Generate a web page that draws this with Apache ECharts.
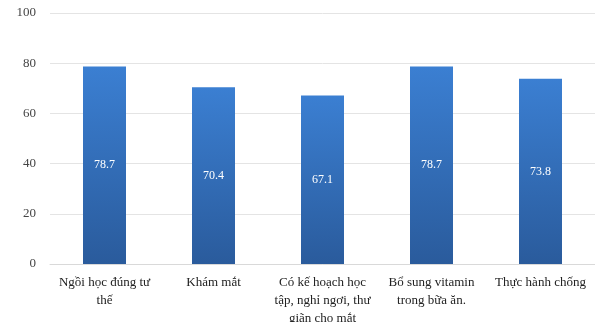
<!DOCTYPE html>
<html>
<head>
<meta charset="utf-8">
<script src="https://cdn.jsdelivr.net/npm/echarts@6/dist/echarts.min.js"></script>
<style>
html,body{margin:0;padding:0;background:#fff;}
#main{width:595px;height:322px;}
</style>
</head>
<body>
<div id="main"></div>
<script>
var categories = [
	'Ngồi học đúng tư\nthế',
	'Khám mắt',
	'Có kế hoạch học\ntập, nghỉ ngơi, thư\ngiãn cho mắt',
	'Bổ sung vitamin\ntrong bữa ăn.',
	'Thực hành chống'
];
var values = [78.7, 70.4, 67.1, 78.7, 73.8];
var yTicks = [0, 20, 40, 60, 80, 100];

var myChart = echarts.init(document.getElementById('main'));
var opt = {
	animation: false,
	grid: {left: 50, right: 0, top: 13, bottom: 58, outerBoundsMode: 'none'},
	xAxis: {
		type: 'category',
		data: categories,
		axisLine: {lineStyle: {color: '#d9d9d9'}},
		axisTick: {show: false},
		axisLabel: {
			interval: 0,
			margin: 10,
			fontFamily: 'Liberation Serif',
			fontSize: 13,
			lineHeight: 18,
			color: '#222'
		}
	},
	yAxis: {
		type: 'value',
		min: yTicks[0],
		max: yTicks[yTicks.length - 1],
		interval: 20,
		axisLine: {show: false},
		axisTick: {show: false},
		splitLine: {lineStyle: {color: '#e4e4e4'}},
		axisLabel: {
			margin: 14,
			fontFamily: 'Liberation Serif',
			fontSize: 13,
			color: '#444'
		}
	},
	series: [{
		type: 'bar',
		data: values,
		barWidth: 43,
		itemStyle: {
			color: new echarts.graphic.LinearGradient(0, 0, 0, 1, [
				{offset: 0, color: '#3b7fd2'},
				{offset: 1, color: '#2a5b9c'}
			])
		},
		label: {
			show: true,
			position: 'inside',
			fontFamily: 'Liberation Serif',
			fontSize: 12,
			color: '#fff'
		}
	}]
};
myChart.setOption(opt);
</script>
</body>
</html>
